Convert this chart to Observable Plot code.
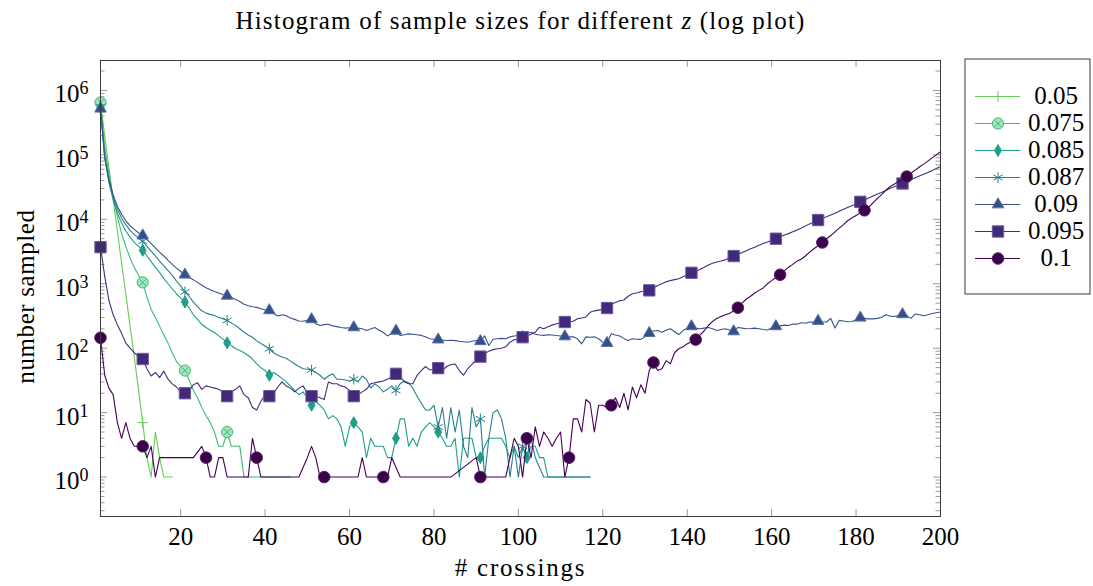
<!DOCTYPE html>
<html><head><meta charset="utf-8">
<script src="https://cdn.jsdelivr.net/npm/d3@7"></script>
<script src="https://cdn.jsdelivr.net/npm/@observablehq/plot@0.6"></script>
<style>
body{margin:0;background:#fff;}
#wrap{position:relative;width:1093px;height:586px;}
#legend{position:absolute;left:964px;top:58px;}
</style></head><body><div id="wrap"><div id="main"></div><div id="legend"></div></div>
<script>
// ---- data: counts for x = 1, 2, 3, ... (0 = empty bin, dropped on the log axis)
const seriesNames = ["0.05","0.075","0.085","0.087","0.09","0.095","0.1"];

const c005 = [650000,195000,63000,20000,6600,2100,690,220,72,23,
  7,2,1,5,2,1,1,1];

const c0075 = [650000,130000,50000,22000,11000,6000,3800,2500,1800,1350,
  1050,620,400,300,220,160,120,85,62,52,
  45,32,22,17,12,9,7,5,3,3,
  5,3,3,3,1,0,0,1,0,0,
  1,0,0,0,0,1];

const c0085 = [540000,88000,37000,20000,12500,8800,6600,5300,4400,3800,
  3300,2700,2200,1800,1500,1200,1000,830,700,600,
  520,420,330,280,235,210,190,175,155,138,
  121,110,98,92,85,77,68,57,50,45,
  38,42,38,34,30,26,22,19,21,17,
  13,15,13,11,8,9,8,6,3,6,
  7,6,5,2,4,3,3,3,2,2,
  4,8,8,3,4,3,5,6,7,6,
  5,4,3,3,4,1,4,4,4,2,
  2,3,4,0,4,4,3,2,3,2,
  3,2,3,3,2,2,1,1,0,1,
  0,0,0,0,0,1,1];

const c0087 = [560000,92000,40000,22000,14500,10500,8200,6800,5800,5100,
  4570,3800,3200,2700,2250,1900,1600,1350,1100,920,
  750,640,520,440,380,350,335,322,300,286,
  270,245,226,200,177,160,148,130,118,108,
  98,85,78,73,70,63,57,52,48,47,
  46,42,38,33,37,40,33,33,32,31,
  33,30,37,33,24,28,25,21,23,26,
  22,28,31,29,24,18,14,11,11,13,
  6,12,4,12,5,11,3,2,12,6,
  8,1,4,10,11,8,4,1,3,1,
  3,2,4,2,0,1,0,1,0,0,
  1,0,0,0,0,0,1];

const c009 = [520000,95000,42000,24000,16000,12000,9500,8000,7000,6200,
  5600,4900,4200,3600,3100,2700,2300,2000,1750,1550,
  1380,1250,1150,1050,950,870,810,760,720,680,
  650,610,570,530,480,455,440,430,410,395,
  386,345,315,330,320,295,280,265,262,270,
  280,240,225,232,235,222,216,210,205,208,
  210,205,200,188,198,210,190,175,155,170,
  186,157,162,167,165,162,158,150,140,138,
  136,134,132,133,131,128,126,124,128,132,
  128,155,110,138,140,142,140,150,155,158,
  148,170,177,165,160,158,162,160,157,155,
  152,150,150,140,117,150,148,150,140,124,
  120,168,160,155,142,132,140,138,137,150,
  171,185,188,177,190,200,180,163,188,205,
  218,205,200,205,210,200,188,195,200,192,
  182,210,205,200,202,205,200,195,192,205,
  218,222,228,225,238,236,248,244,255,252,
  264,258,255,290,206,270,265,258,260,275,
  297,290,285,285,290,300,330,315,310,320,
  335,320,290,340,330,318,330,345,355,365];

const c0095 = [3700,1300,550,330,230,170,120,100,85,75,
  68,48,37,42,35,44,33,28,25,21,
  20,22,27,29,23,26,25,24,23,21,
  18,21,23,26,19,17,12,11,15,19,
  18,20,25,30,26,24,21,24,26,20,
  18,18,17,16,30,28,28,26,25,22,
  18,19,21,23,28,29,30,31,33,36,
  40,36,30,28,28,38,45,52,46,47,
  49,45,52,56,57,45,38,48,56,65,
  74,82,90,95,98,100,105,124,135,140,
  148,155,165,177,212,200,215,228,240,248,
  255,255,262,286,295,305,360,380,390,400,
  420,480,510,545,560,640,700,720,750,770,
  790,860,940,1000,1070,1120,1160,1200,1280,1380,
  1480,1570,1670,1800,1950,2080,2170,2250,2350,2500,
  2690,2850,3050,3250,3500,3700,3950,4200,4450,4700,
  5000,5300,5700,6000,6400,6800,7300,7900,8500,9100,
  9750,10400,11000,11700,12400,13300,14300,15300,16300,17500,
  18700,20000,21500,23000,24500,26000,28000,30000,32000,34000,
  36000,38500,41000,44000,47000,50000,53500,57000,61500,66000];

const c01 = [145,38,24,19,7,4,7,4,3,3,
  3,2,3,1,2,2,0,2,0,2,
  0,0,2,0,3,2,1,1,2,2,
  1,1,0,1,0,1,4,2,1,0,
  1,0,1,0,1,0,0,1,0,2,
  3,2,1,1,1,0,1,1,0,1,
  0,1,2,1,1,0,1,1,1,2,
  0,1,0,1,1,0,0,0,1,0,
  0,1,0,1,0,0,0,0,0,2,
  1,1,0,1,1,1,1,2,4,3,
  1,4,2,6,3,5,4,3,4,5,
  1,2,8,8,5,16,14,5,13,13,
  12,13,17,12,20,11,25,17,27,20,
  45,60,45,48,64,57,85,98,105,117,
  125,136,160,185,225,260,290,310,330,345,
  380,425,500,580,640,720,790,860,1000,1120,
  1250,1380,1600,1800,2000,2250,2400,2700,3100,3500,
  3900,4370,5000,5600,6400,7300,8300,9500,10500,11500,
  12600,13800,15500,18000,21000,24000,28000,32000,35000,38500,
  42000,46000,52000,58000,65000,72000,80000,90000,100000,112000];

const xTickValues = [20,40,60,80,100,120,140,160,180,200];
const yTickExponents = [0,1,2,3,4,5,6];
const titleText = "Histogram of sample sizes for different z (log plot)";
const xLabel = "# crossings";
const yLabel = "number sampled";

// ---- styles
const allCounts = [c005, c0075, c0085, c0087, c009, c0095, c01];
const styles = [
  {color:"#66cc55", symbol:"plus",     r:3.5, fill:"none",    stroke:"#66cc55"},
  {color:"#3dba74", symbol:"circle",   r:5.6, fill:"#a3e3bf", stroke:"#3dba74", overlay:"times"},
  {color:"#1f9e89", symbol:"diamond",  r:3.6, fill:"#1f9e89", stroke:"#1f9e89"},
  {color:"#27808e", symbol:"asterisk", r:5,   fill:"none",    stroke:"#27808e"},
  {color:"#3b528b", symbol:"triangle", r:4.3, fill:"#34508a", stroke:"#5a70a3"},
  {color:"#472c7a", symbol:"square",   r:6.4, fill:"#43297a", stroke:"#6d5c9e"},
  {color:"#440154", symbol:"circle",   r:5.8, fill:"#3a0349", stroke:"#56236a"}
];

const W = 1093, H = 586, mL = 100, mR = 153, mT = 60, mB = 70;
const innerW = W - mL - mR, innerH = H - mT - mB;
const yMin = Math.pow(10, -0.612), yMax = Math.pow(10, 6.465);
const FONT = "Liberation Serif, DejaVu Serif, serif";

const yMajor = yTickExponents.map(e => Math.pow(10, e));
const yMinor = [];
for (let e = -1; e <= 6; e++) for (let k = 2; k <= 9; k++) {
  const v = k * Math.pow(10, e);
  if (v >= yMin && v <= yMax) yMinor.push(v);
}

const toPoints = arr => arr.map((c, i) => ({x: i + 1, y: c})).filter(d => d.y > 0);

const marks = [];
const tickStroke = "#9a9a9a";
// inward ticks on all four sides
marks.push(Plot.tickY(yMajor, {y: d => d, insetRight: innerW - 7, stroke: tickStroke}));
marks.push(Plot.tickY(yMajor, {y: d => d, insetLeft: innerW - 7, stroke: tickStroke}));
marks.push(Plot.tickY(yMinor, {y: d => d, insetRight: innerW - 4.5, stroke: tickStroke}));
marks.push(Plot.tickY(yMinor, {y: d => d, insetLeft: innerW - 4.5, stroke: tickStroke}));
marks.push(Plot.tickX(xTickValues, {x: d => d, insetTop: innerH - 7, stroke: tickStroke}));
marks.push(Plot.tickX(xTickValues, {x: d => d, insetBottom: innerH - 7, stroke: tickStroke}));

allCounts.forEach((arr, si) => {
  const st = styles[si];
  const pts = toPoints(arr);
  const mk = pts.filter((d, i) => i % 10 === 0);
  marks.push(Plot.line(pts, {x: "x", y: "y", stroke: st.color, strokeWidth: 1.1}));
  marks.push(Plot.dot(mk, {x: "x", y: "y", symbol: st.symbol, r: st.r, fill: st.fill, stroke: st.stroke, strokeWidth: 1}));
  if (st.overlay) marks.push(Plot.dot(mk, {x: "x", y: "y", symbol: st.overlay, r: 3, stroke: st.stroke, strokeWidth: 1}));
});

marks.push(Plot.frame({stroke: "#3a3a3a", strokeWidth: 1}));

// tick labels and titles
marks.push(Plot.text(xTickValues, {x: d => d, text: d => String(d), frameAnchor: "bottom", dy: 20, lineAnchor: "middle", fontSize: 25, fontFamily: FONT}));
marks.push(Plot.text(yMajor, {y: d => d, text: d => "10^" + Math.round(Math.log10(d)), frameAnchor: "left", dx: -12, dy: 4, textAnchor: "end", lineAnchor: "middle", fontSize: 25, fontFamily: FONT}));
marks.push(Plot.text([titleText], {text: d => d, frameAnchor: "top", dy: -40, textAnchor: "middle", lineAnchor: "middle", fontSize: 25, fontFamily: FONT}));
marks.push(Plot.text([xLabel], {text: d => d, frameAnchor: "bottom", dy: 51, textAnchor: "middle", lineAnchor: "middle", fontSize: 25, fontFamily: FONT}));
marks.push(Plot.text([yLabel], {text: d => d, frameAnchor: "left", dx: -75, dy: 8, rotate: -90, textAnchor: "middle", lineAnchor: "middle", fontSize: 25, fontFamily: FONT}));

const chart = Plot.plot({
  width: W, height: H,
  marginLeft: mL, marginRight: mR, marginTop: mT, marginBottom: mB,
  x: {domain: [1, 200], axis: null},
  y: {type: "log", domain: [yMin, yMax], axis: null},
  style: {fontFamily: FONT, fontSize: "24px", color: "#000", background: "#fff", overflow: "visible"},
  marks
});
document.getElementById("main").appendChild(chart);

// superscript exponents, italic z, spacing
d3.select(chart).selectAll("text").each(function () {
  const s = this.textContent;
  const m = /^10\^(-?\d+)$/.exec(s);
  if (m) {
    const t = d3.select(this); t.text(null);
    t.append("tspan").text("10");
    t.append("tspan").attr("dy", "-0.45em").attr("font-size", "18px").text(m[1]);
  } else if (s === titleText) {
    const t = d3.select(this); t.text(null);
    const parts = s.split(" z ");
    t.append("tspan").text(parts[0] + " ");
    t.append("tspan").attr("font-style", "italic").text("z");
    t.append("tspan").text(" " + parts[1]);
    t.attr("letter-spacing", "1.2px");
  } else if (s === xLabel) {
    d3.select(this).attr("letter-spacing", "1.8px");
  } else if (s === yLabel) {
    d3.select(this).attr("letter-spacing", "0.6px");
  }
});

// ---- legend
const legMarks = [Plot.frame({stroke: "#3a3a3a", inset: 0.5})];
seriesNames.forEach((name, si) => {
  const st = styles[si];
  legMarks.push(Plot.ruleY([name], {y: d => d, x1: 0, x2: 1, stroke: st.color, strokeWidth: 1.1}));
  legMarks.push(Plot.dot([name], {x: 0.5, y: d => d, symbol: st.symbol, r: st.r, fill: st.fill, stroke: st.stroke, strokeWidth: 1}));
  if (st.overlay) legMarks.push(Plot.dot([name], {x: 0.5, y: d => d, symbol: st.overlay, r: 3, stroke: st.stroke, strokeWidth: 1}));
  legMarks.push(Plot.text([name], {y: d => d, text: d => d, frameAnchor: "left", dx: 91.7, dy: -1, textAnchor: "middle", lineAnchor: "middle", fontSize: 25, fontFamily: FONT}));
});
const legend = Plot.plot({
  width: 126, height: 236, margin: 0,
  x: {domain: [0, 1], range: [11, 56], axis: null},
  y: {type: "point", domain: seriesNames, range: [23.7, 213.3], axis: null},
  style: {fontFamily: FONT, color: "#000", background: "#fff", overflow: "visible"},
  marks: legMarks
});
document.getElementById("legend").appendChild(legend);
</script>
</body></html>
